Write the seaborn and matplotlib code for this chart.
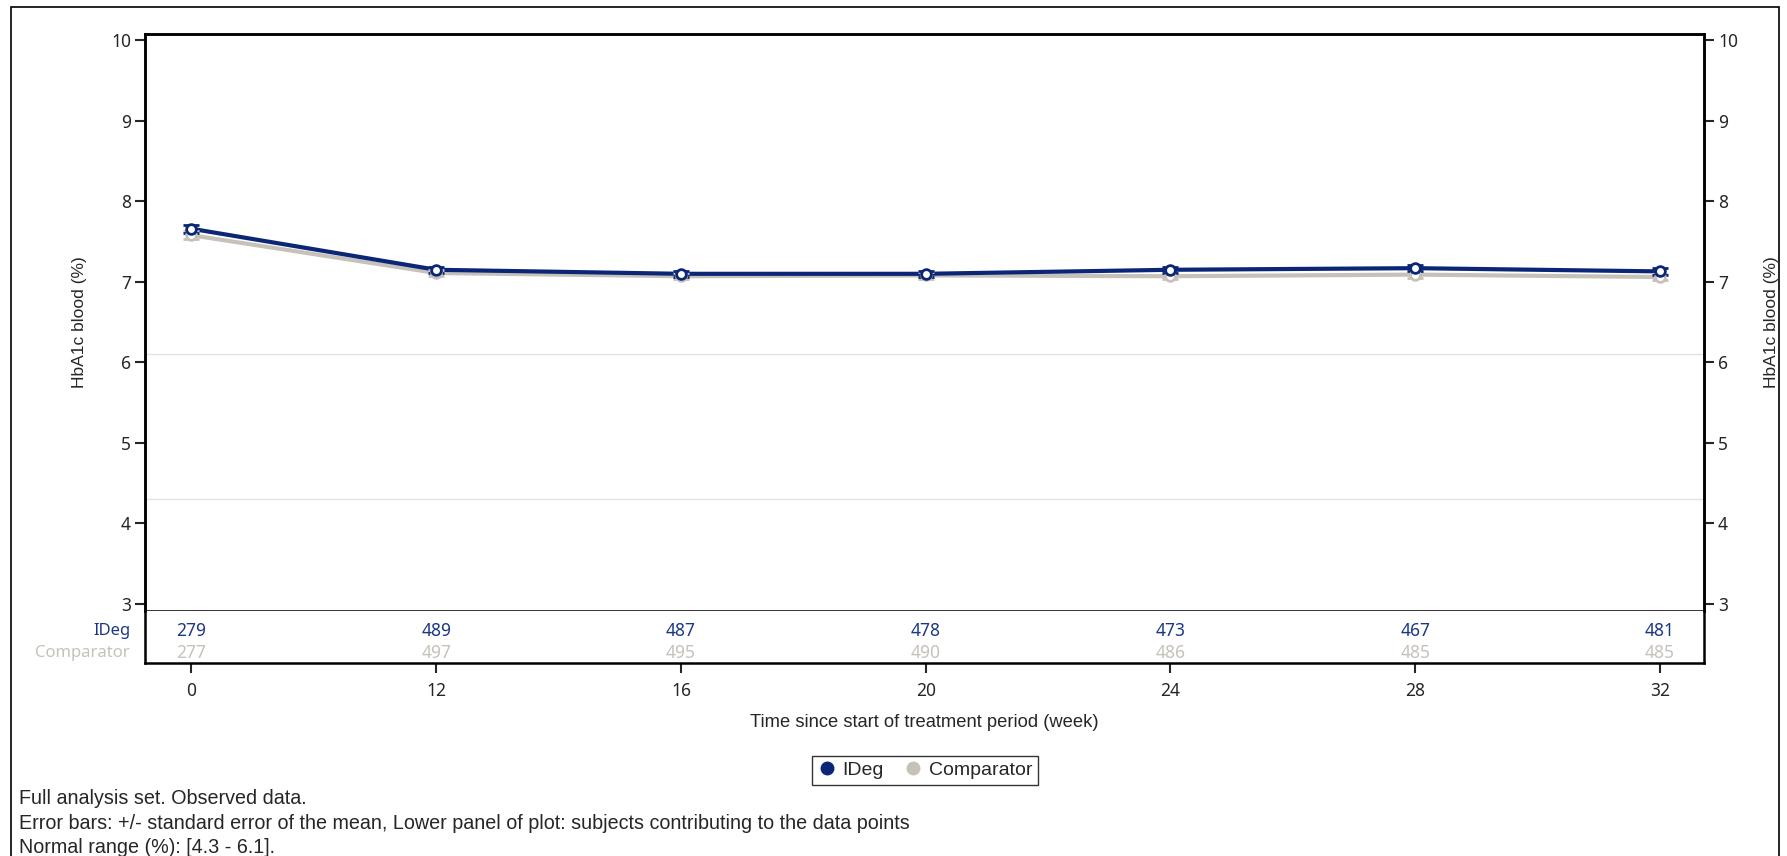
import numpy as np
import pandas as pd
import matplotlib
matplotlib.use("Agg")
import matplotlib.pyplot as plt
import seaborn as sns
from matplotlib.patches import Rectangle

# -------- data --------
weeks = ["0", "12", "16", "20", "24", "28", "32"]
ideg_mean = [7.66, 7.15, 7.10, 7.10, 7.15, 7.17, 7.13]
ideg_se = [0.05, 0.04, 0.04, 0.04, 0.04, 0.04, 0.04]
comp_mean = [7.58, 7.11, 7.07, 7.08, 7.07, 7.09, 7.06]
comp_se = [0.05, 0.04, 0.04, 0.04, 0.04, 0.04, 0.04]
ideg_n = [279, 489, 487, 478, 473, 467, 481]
comp_n = [277, 497, 495, 490, 486, 485, 485]
normal_range = [4.3, 6.1]

navy = "#0B2677"
navy_txt = "#1C3786"
grey = "#C6C2BA"

sns.set_style("white")
plt.rcParams["font.family"] = ["Liberation Sans", "DejaVu Sans"]

pos = np.arange(len(weeks))
df = pd.concat([
    pd.DataFrame({"pos": pos, "mean": comp_mean, "se": comp_se, "group": "Comparator"}),
    pd.DataFrame({"pos": pos, "mean": ideg_mean, "se": ideg_se, "group": "IDeg"}),
])

fig = plt.figure(figsize=(17.87, 8.56), dpi=100)
fig.patches.append(Rectangle((0.0062, -0.05), 0.9894, 1.0422, transform=fig.transFigure,
                             fill=False, edgecolor="black", linewidth=1.2))

ax = fig.add_axes([0.0811, 0.2862, 0.8725, 0.6741])
axn = fig.add_axes([0.0811, 0.2255, 0.8725, 0.0607], sharex=ax)

# normal range reference lines
for v in normal_range:
    ax.axhline(v, color="#E2E2E2", linewidth=1.0, zorder=0)

sns.lineplot(data=df, x="pos", y="mean", hue="group",
             palette={"IDeg": navy, "Comparator": grey},
             hue_order=["Comparator", "IDeg"], linewidth=3, ax=ax, legend=False)

for mean, se, col in [(comp_mean, comp_se, grey), (ideg_mean, ideg_se, navy)]:
    ax.errorbar(pos, mean, yerr=se, fmt="o", color=col, mfc="white", mec=col,
                mew=2, ms=7, ecolor=col, elinewidth=2, capsize=6, capthick=2, zorder=3)

ax.set_xlim(-0.19, 6.18)
ax.set_ylim(2.91, 10.08)
ax.set_yticks(range(3, 11))
ax.set_xlabel("")
ax.set_ylabel("HbA1c blood (%)", fontsize=12.5)
ax.yaxis.set_label_coords(-0.037, 0.5)
ax.tick_params(axis="x", bottom=False, labelbottom=False)
ax.tick_params(axis="y", left=True, length=7, width=1.5, labelsize=12.5, pad=3)
for lab in ax.get_yticklabels():
    lab.set_fontfamily("Noto Sans")

ax2 = ax.twinx()
ax2.set_ylim(ax.get_ylim())
ax2.set_yticks(range(3, 11))
ax2.tick_params(axis="y", right=True, length=7, width=1.5, labelsize=12.5, pad=3)
for lab in ax2.get_yticklabels():
    lab.set_fontfamily("Noto Sans")
ax2.set_ylabel("HbA1c blood (%)", fontsize=12.5)
ax2.yaxis.set_label_coords(1.0385, 0.5)

for a in (ax, ax2):
    for s in a.spines.values():
        s.set_linewidth(1.8)
        s.set_color("black")
ax.spines["bottom"].set_linewidth(1.4)
ax.spines["bottom"].set_color("#333333")
ax2.spines["bottom"].set_visible(False)

# lower panel: subjects contributing
axn.set_ylim(0, 1)
axn.set_yticks([])
for i in range(len(weeks)):
    axn.text(pos[i], 0.615, str(ideg_n[i]), color=navy_txt, ha="center", va="center",
             fontsize=12.5, family="Noto Sans")
    axn.text(pos[i], 0.19, str(comp_n[i]), color=grey, ha="center", va="center",
             fontsize=12.5, family="Noto Sans")
axn.text(-0.0095, 0.615, "IDeg", color=navy_txt, ha="right", va="center", fontsize=12,
         family="Noto Sans", transform=axn.transAxes)
axn.text(-0.0095, 0.19, "Comparator", color=grey, ha="right", va="center", fontsize=12,
         family="Noto Sans", transform=axn.transAxes)
axn.set_xticks(pos)
axn.set_xticklabels(weeks, fontsize=12.5, family="Noto Sans")
axn.tick_params(axis="x", bottom=True, length=7, width=1.5, pad=7)
axn.spines["top"].set_visible(False)
for s in ["left", "right", "bottom"]:
    axn.spines[s].set_linewidth(1.8)
    axn.spines[s].set_color("black")
axn.set_xlabel("Time since start of treatment period (week)", fontsize=13.2, labelpad=10)

# legend
handles = [plt.Line2D([], [], marker="o", linestyle="", color=navy, ms=9),
           plt.Line2D([], [], marker="o", linestyle="", color=grey, ms=9)]
fig.legend(handles, ["IDeg", "Comparator"], loc="center", bbox_to_anchor=(0.5175, 0.1),
           ncol=2, frameon=True, fancybox=False, edgecolor="black", fontsize=14,
           handletextpad=0.3, columnspacing=1.0, borderpad=0.3, handlelength=1.0)

# footnotes
notes = ["Full analysis set. Observed data.",
         "Error bars: +/- standard error of the mean, Lower panel of plot: subjects contributing to the data points",
         "Normal range (%): [4.3 - 6.1]."]
for k, t in enumerate(notes):
    fig.text(0.0106, 0.0605 - k * 0.0285, t, fontsize=14.2, ha="left", va="baseline")

fig.savefig("out.png", dpi=100)
